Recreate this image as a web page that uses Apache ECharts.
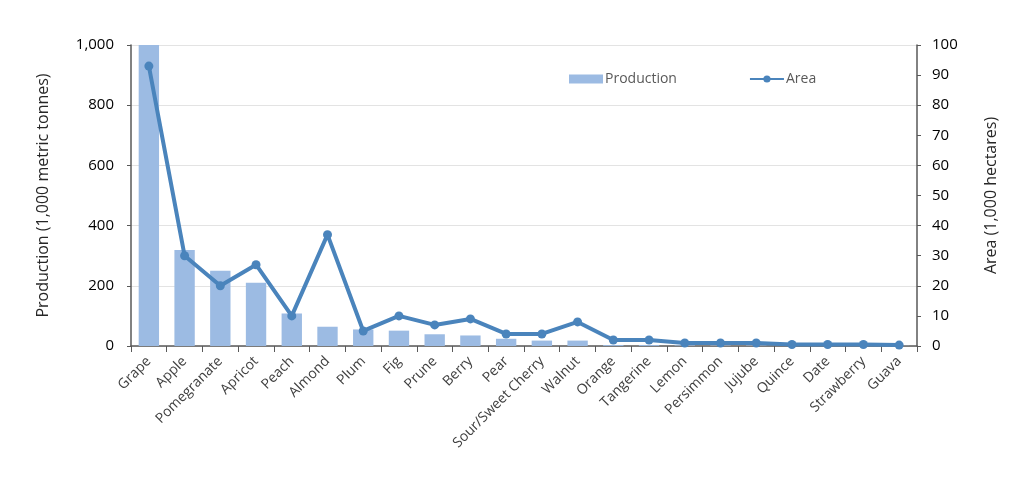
<!DOCTYPE html>
<html>
<head>
<meta charset="utf-8">
<script src="https://cdn.jsdelivr.net/npm/echarts@6/dist/echarts.min.js"></script>
<style>
  html, body { margin: 0; padding: 0; background: #fff; }
  #chart { width: 1024px; height: 487px; }
</style>
</head>
<body>
<div id="chart"></div>
<script>
// fruit crops, sorted by production
const categories = ['Grape', 'Apple', 'Pomegranate', 'Apricot', 'Peach', 'Almond', 'Plum', 'Fig', 'Prune', 'Berry',
    'Pear', 'Sour/Sweet Cherry', 'Walnut', 'Orange', 'Tangerine', 'Lemon', 'Persimmon', 'Jujube', 'Quince', 'Date',
    'Strawberry', 'Guava'];
// 1,000 metric tonnes
const production = [1000, 319, 250, 210, 108, 64, 55, 51, 39, 35, 24, 18, 18, 3, 3, 2, 1.5, 1.5, 1, 1, 1, 0.5];
// 1,000 hectares
const area = [93, 30, 20, 27, 10, 37, 5, 10, 7, 9, 4, 4, 8, 2, 2, 1, 1, 1, 0.5, 0.5, 0.5, 0.3];

const font = 'Open Sans';
const axisColor = '#595959';

const chart = echarts.init(document.getElementById('chart'));

const option = {
    animation: false,
    grid: {
        left: 131,
        right: 107,
        top: 45,
        bottom: 141
    },
    legend: {
        top: 67,
        left: 564,
        itemGap: 72,
        itemWidth: 34,
        itemHeight: 9,
        textStyle: { fontFamily: font, fontSize: 14, color: '#595959', padding: [0, 0, 0, -3] },
        data: [
            { name: 'Production', icon: 'rect' },
            { name: 'Area' }
        ]
    },
    xAxis: {
        type: 'category',
        data: categories,
        axisLine: { lineStyle: { color: axisColor, width: 1.5 } },
        axisTick: { show: true, alignWithLabel: false, length: 6, lineStyle: { color: axisColor } },
        axisLabel: {
            interval: 0,
            rotate: 45,
            fontFamily: font,
            fontSize: 14,
            color: '#404040',
            margin: 13
        }
    },
    yAxis: [
        {
            type: 'value',
            min: 0,
            max: 1000,
            interval: 200,
            name: 'Production (1,000 metric tonnes)',
            nameLocation: 'middle',
            nameGap: 80,
            nameTextStyle: { fontFamily: font, fontSize: 16, color: '#262626' },
            axisLine: { show: true, lineStyle: { color: axisColor, width: 1.5 } },
            axisTick: { show: true, length: 4, lineStyle: { color: axisColor } },
            axisLabel: {
                fontFamily: font,
                fontSize: 15,
                color: '#000',
                margin: 17,
                formatter: v => v.toLocaleString('en-US')
            },
            splitLine: { lineStyle: { color: '#e3e3e3', width: 1.2 } }
        },
        {
            type: 'value',
            min: 0,
            max: 100,
            interval: 10,
            name: 'Area (1,000 hectares)',
            nameLocation: 'middle',
            nameGap: 66,
            nameRotate: 90,
            nameTextStyle: { fontFamily: font, fontSize: 16, color: '#262626' },
            axisLine: { show: true, lineStyle: { color: axisColor, width: 1.5 } },
            axisTick: { show: true, length: 4, lineStyle: { color: axisColor } },
            axisLabel: { fontFamily: font, fontSize: 15, color: '#000', margin: 15 },
            splitLine: { show: false }
        }
    ],
    series: [
        {
            name: 'Production',
            type: 'bar',
            data: production,
            barWidth: '57%',
            itemStyle: { color: '#9cbbe3' }
        },
        {
            name: 'Area',
            type: 'line',
            yAxisIndex: 1,
            data: area,
            symbol: 'circle',
            symbolSize: 9,
            lineStyle: { width: 4, color: '#4a84bc' },
            itemStyle: { color: '#4a84bc' }
        }
    ]
};

chart.setOption(option);
</script>
</body>
</html>
